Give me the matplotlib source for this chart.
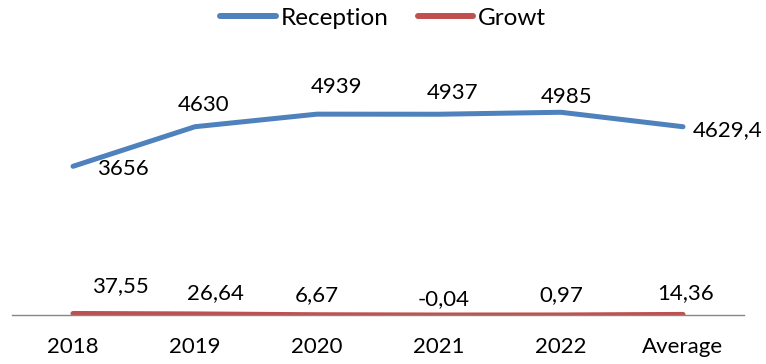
import matplotlib.pyplot as plt

# data
categories = ['2018', '2019', '2020', '2021', '2022', 'Average']
reception = [3656, 4630, 4939, 4937, 4985, 4629.4]
growt = [37.55, 26.64, 6.67, -0.04, 0.97, 14.36]

# label offsets in pixels (dx, dy) relative to each point
rec_offsets = [(50, -3), (9, 22), (20, 27), (14, 21), (6, 15), (45, -3)]
gro_offsets = [(47, 27), (20, 21), (0, 20), (5, 16), (0, 20), (3, 21)]

plt.rcParams['font.family'] = ['Lato', 'DejaVu Sans']

fig = plt.figure(figsize=(7.66, 3.64), dpi=100)
ax = fig.add_axes([12 / 766, 49 / 364, 732 / 766, 244 / 364])

x = list(range(len(categories)))
blue = '#4F81BD'
red = '#C0504D'
ax.plot(x, reception, color=blue, lw=3.6, solid_capstyle='round',
        solid_joinstyle='round', label='Reception')
ax.plot(x, growt, color=red, lw=3.6, solid_capstyle='round',
        solid_joinstyle='round', label='Growt')

def fmt(v):
    return f'{v:g}'.replace('.', ',')

for xi, v, off in zip(x, reception, rec_offsets):
    ax.annotate(fmt(v), (xi, v), xytext=off, textcoords='offset pixels',
                ha='center', va='center', fontsize=16, color='black')
for xi, v, off in zip(x, growt, gro_offsets):
    ax.annotate(fmt(v), (xi, v), xytext=off, textcoords='offset pixels',
                ha='center', va='center', fontsize=16, color='black')

ax.set_xlim(-0.5, len(categories) - 0.5)
ax.set_ylim(0, 6000)
ax.set_xticks(x)
ax.set_xticklabels(categories, fontsize=16)
ax.tick_params(axis='x', length=0, pad=16)
ax.set_yticks([])
for s in ['top', 'right', 'left']:
    ax.spines[s].set_visible(False)
ax.spines['bottom'].set_color('#868686')
ax.spines['bottom'].set_linewidth(1.0)

leg = fig.legend(loc='center', bbox_to_anchor=(0.5, 1 - 18 / 364), ncol=2,
                 frameon=False, fontsize=17.5, handlelength=2.3,
                 handletextpad=0.2, columnspacing=1.2)
for h in leg.get_lines():
    h.set_linewidth(4.3)
    h.set_solid_capstyle('round')

fig.savefig('out.png', dpi=100)
